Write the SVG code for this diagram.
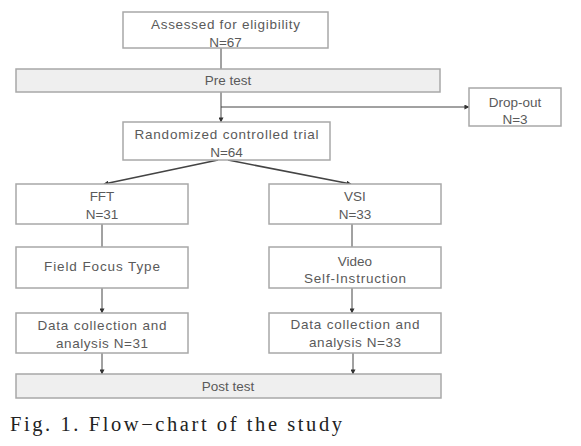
<svg xmlns="http://www.w3.org/2000/svg" width="581" height="446" viewBox="0 0 581 446">
<style>
.box{fill:#fff;stroke:#a8a8a8;stroke-width:1.5}
.bar{fill:#efefef;stroke:#a8a8a8;stroke-width:1.5}
.t{font-family:"Liberation Sans",Arial,sans-serif;font-size:13.5px;fill:#5a5a5a;text-anchor:middle}
.ln{stroke:#444;stroke-width:1;fill:none}
.dg{stroke:#444;stroke-width:1.6;fill:none}
.cap{font-family:"Liberation Serif","Times New Roman",serif;font-size:20.5px;fill:#222}
</style>
<defs>
<marker id="ah" viewBox="0 0 6 6" refX="5.5" refY="3" markerWidth="5" markerHeight="5" markerUnits="userSpaceOnUse" orient="auto">
<path d="M0,0 L6,3 L0,6 z" fill="#333"/>
</marker>
</defs>
<rect width="581" height="446" fill="#fff"/>
<g id="connectors">
<line class="ln" x1="221" y1="48" x2="221" y2="69"/>
<line class="ln" x1="221" y1="92" x2="221" y2="122" marker-end="url(#ah)"/>
<line class="ln" x1="221" y1="107" x2="469" y2="107" marker-end="url(#ah)"/>
<line class="dg" x1="218" y1="160" x2="104" y2="184" marker-end="url(#ah)"/>
<line class="dg" x1="228" y1="160" x2="351" y2="184" marker-end="url(#ah)"/>
<line class="ln" x1="102" y1="224" x2="102" y2="247"/>
<line class="ln" x1="352" y1="224" x2="352" y2="247"/>
<line class="ln" x1="102" y1="288" x2="102" y2="313" marker-end="url(#ah)"/>
<line class="ln" x1="352" y1="288" x2="352" y2="313" marker-end="url(#ah)"/>
<line class="ln" x1="102" y1="353" x2="102" y2="374" marker-end="url(#ah)"/>
<line class="ln" x1="353" y1="353" x2="353" y2="374" marker-end="url(#ah)"/>
</g>
<g id="assessed">
<rect class="box" x="123" y="12" width="205" height="36"/>
<text class="t" x="225.5" y="28.5" textLength="149" lengthAdjust="spacing">Assessed for eligibility</text>
<text class="t" x="225.5" y="46.5">N=67</text>
</g>
<g id="pretest">
<rect class="bar" x="16" y="69" width="424" height="23"/>
<text class="t" x="228" y="85">Pre test</text>
</g>
<g id="dropout">
<rect class="box" x="469" y="88" width="92" height="38"/>
<text class="t" x="515" y="106.5">Drop-out</text>
<text class="t" x="515" y="124">N=3</text>
</g>
<g id="rct">
<rect class="box" x="123" y="122" width="207" height="38"/>
<text class="t" x="226.5" y="138.5" textLength="184" lengthAdjust="spacing">Randomized controlled trial</text>
<text class="t" x="226.5" y="157">N=64</text>
</g>
<g id="fft">
<rect class="box" x="16" y="184" width="172" height="40"/>
<text class="t" x="102" y="200.5">FFT</text>
<text class="t" x="102" y="218.5">N=31</text>
</g>
<g id="vsi">
<rect class="box" x="269" y="184" width="172" height="40"/>
<text class="t" x="355" y="200.5">VSI</text>
<text class="t" x="355" y="218.5">N=33</text>
</g>
<g id="ffttype">
<rect class="box" x="16" y="247" width="172" height="41"/>
<text class="t" x="102" y="270.5" textLength="116" lengthAdjust="spacing">Field Focus Type</text>
</g>
<g id="video">
<rect class="box" x="269" y="247" width="172" height="41"/>
<text class="t" x="355" y="265.5">Video</text>
<text class="t" x="355" y="282.5" textLength="102" lengthAdjust="spacing">Self-Instruction</text>
</g>
<g id="data1">
<rect class="box" x="16" y="313" width="172" height="40"/>
<text class="t" x="102" y="329.5" textLength="129" lengthAdjust="spacing">Data collection and</text>
<text class="t" x="102" y="347.5" textLength="92" lengthAdjust="spacing">analysis N=31</text>
</g>
<g id="data2">
<rect class="box" x="269" y="313" width="172" height="40"/>
<text class="t" x="355" y="328.5" textLength="129" lengthAdjust="spacing">Data collection and</text>
<text class="t" x="355" y="346.5" textLength="92" lengthAdjust="spacing">analysis N=33</text>
</g>
<g id="posttest">
<rect class="bar" x="16" y="374" width="425" height="24"/>
<text class="t" x="228" y="390.5">Post test</text>
</g>
<text class="cap" x="10" y="431" textLength="332" lengthAdjust="spacing">Fig. 1. Flow−chart of the study</text>
</svg>
